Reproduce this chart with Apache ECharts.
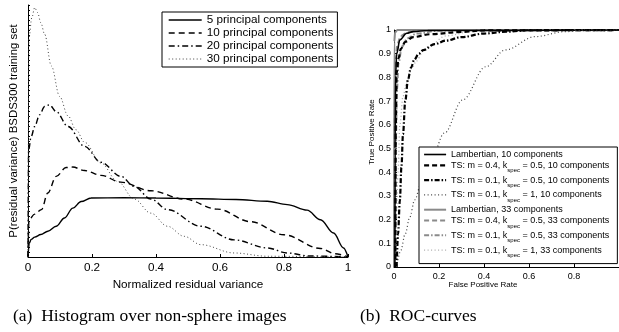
<!DOCTYPE html>
<html>
<head>
<meta charset="utf-8">
<script src="https://cdn.jsdelivr.net/npm/echarts@6/dist/echarts.min.js"></script>
<style>
  html, body { margin: 0; padding: 0; background: #fff; }
  #chart { width: 619px; height: 332px; }
</style>
</head>
<body>
<div id="chart"></div>
<script>
/* ------------------------------- Data (a) -------------------------------- */
const histTicks = [0, 0.2, 0.4, 0.6, 0.8, 1];
const histNames = ['5 principal components', '10 principal components', '20 principal components', '30 principal components'];
const hist5 = [[0, 0], [0.004, 5.5], [0.01, 7], [0.021, 7.9], [0.04, 8.9], [0.062, 10.2], [0.088, 12.2], [0.114, 15.5], [0.14, 19.4], [0.166, 22], [0.197, 23.4], [0.3, 23.5], [0.4, 23.4], [0.54, 23.1], [0.65, 22.8], [0.748, 22.1], [0.81, 20.8], [0.872, 18.6], [0.914, 14.8], [0.955, 9.5], [0.986, 3.6], [1, 0]];
const hist10 = [[0, 0], [0.003, 14.8], [0.021, 17], [0.042, 18.8], [0.062, 25.4], [0.088, 32], [0.119, 35.5], [0.14, 35.7], [0.177, 34.3], [0.228, 32.4], [0.29, 29.7], [0.384, 26.3], [0.488, 23], [0.592, 19], [0.696, 14], [0.8, 8.8], [0.914, 3.4], [0.96, 1.3], [1, 0]];
const hist20 = [[0, 0], [0.002, 42.5], [0.01, 47.8], [0.021, 51.8], [0.036, 56.4], [0.052, 59.7], [0.067, 60.4], [0.088, 57.7], [0.125, 51.8], [0.177, 43.9], [0.228, 37.6], [0.29, 32], [0.332, 28], [0.384, 23], [0.436, 18.8], [0.54, 12.2], [0.644, 6.8], [0.748, 3.6], [0.81, 1.6], [0.88, 0.4], [1, 0]];
const hist30 = [[0, 0], [0.003, 86.8], [0.012, 95], [0.021, 99], [0.03, 97], [0.04, 93], [0.052, 88.4], [0.073, 75.8], [0.099, 63.7], [0.125, 56], [0.15, 50.5], [0.177, 45.5], [0.228, 37.3], [0.28, 30], [0.332, 23], [0.384, 17.4], [0.436, 12.2], [0.488, 8.2], [0.54, 4.9], [0.644, 1.6], [0.748, 0.3], [1, 0]];

/* ------------------------------- Data (b) -------------------------------- */
const rocTicksX = [0, 0.2, 0.4, 0.6, 0.8];
const rocTicksY = [0, 0.1, 0.2, 0.3, 0.4, 0.5, 0.6, 0.7, 0.8, 0.9, 1];
const rocNames = [
  'Lambertian, 10 components',
  'TS: m = 0.4, k_spec = 0.5, 10 components',
  'TS: m = 0.1, k_spec = 0.5, 10 components',
  'TS: m = 0.1, k_spec = 1, 10 components',
  'Lambertian, 33 components',
  'TS: m = 0.4, k_spec = 0.5, 33 components',
  'TS: m = 0.1, k_spec = 0.5, 33 components',
  'TS: m = 0.1, k_spec = 1, 33 components'
];
const lamb10 = [[0.004, 0], [0.005, 0.5], [0.007, 0.81], [0.012, 0.9], [0.026, 0.958], [0.056, 0.986], [0.085, 0.993], [0.15, 0.998], [1, 1]];
const ts04k05c10 = [[0.006, 0], [0.008, 0.6], [0.012, 0.82], [0.02, 0.88], [0.03, 0.92], [0.05, 0.95], [0.085, 0.97], [0.16, 0.982], [0.3, 0.992], [0.4, 0.998], [1, 1]];
const ts01k05c10 = [[0.012, 0], [0.018, 0.14], [0.026, 0.28], [0.033, 0.42], [0.04, 0.56], [0.05, 0.7], [0.062, 0.79], [0.075, 0.84], [0.09, 0.875], [0.11, 0.9], [0.13, 0.915], [0.18, 0.94], [0.23, 0.955], [0.3, 0.97], [0.4, 0.985], [0.5, 0.993], [0.6, 0.999], [1, 1]];
const ts01k1c10 = [[0.012, 0], [0.03, 0.07], [0.05, 0.14], [0.07, 0.21], [0.092, 0.283], [0.12, 0.35], [0.158, 0.43], [0.224, 0.565], [0.305, 0.705], [0.408, 0.845], [0.495, 0.916], [0.627, 0.972], [0.76, 0.993], [0.85, 1], [1, 1]];
const lamb33 = [[0, 0], [0.001, 0.95], [0.005, 0.99], [0.015, 1], [1, 1]];
const ts04k05c33 = [[0.002, 0], [0.004, 0.7], [0.008, 0.88], [0.015, 0.94], [0.03, 0.975], [0.06, 0.99], [0.12, 1], [1, 1]];
const ts01k05c33 = [[0.004, 0], [0.008, 0.5], [0.013, 0.75], [0.02, 0.86], [0.035, 0.93], [0.06, 0.965], [0.1, 0.985], [0.2, 0.997], [0.3, 1], [1, 1]];
const ts01k1c33 = [[0.005, 0], [0.01, 0.2], [0.018, 0.4], [0.026, 0.6], [0.04, 0.72], [0.056, 0.78], [0.08, 0.84], [0.1, 0.87], [0.13, 0.91], [0.158, 0.935], [0.23, 0.975], [0.35, 0.995], [0.5, 1], [1, 1]];

/* --------------------------------- Styles -------------------------------- */
const SANS = '"Liberation Sans", Arial, sans-serif';
const SERIF = '"Liberation Serif", "Times New Roman", serif';
const DASH = [6, 4];
const DASHDOT = [6, 3, 1.5, 3];
const DOT = [1, 2.5];

const line = (name, data, xi, color, width, type) => ({
  name,
  type: 'line',
  data,
  xAxisIndex: xi,
  yAxisIndex: xi,
  symbol: 'none',
  smooth: 0.35,
  smoothMonotone: 'x',
  silent: true,
  lineStyle: { color, width, type },
  itemStyle: { color },
  z: 2
});

const axisCommon = fontSize => ({
  axisLine: { lineStyle: { color: '#000', width: 1 } },
  axisTick: { inside: true, length: 3, lineStyle: { color: '#000' } },
  axisLabel: { color: '#000', fontFamily: SANS, fontSize },
  splitLine: { show: false }
});

// TS names carry a "spec" subscript on k
const richName = name =>
  name.startsWith('TS')
    ? '{t|' + name.replace('k_spec', 'k}{s|spec}{t|') + '}'
    : '{l|' + name + '}';

/* --------------------------------- Chart --------------------------------- */
const chart = echarts.init(document.getElementById('chart'));

chart.setOption({
  animation: false,
  backgroundColor: '#fff',
  grid: [
    { left: 27, right: 271, top: 5, bottom: 75 },
    { left: 394, right: -2.5, top: 30, bottom: 65 }
  ],
  xAxis: [
    {
      gridIndex: 0, type: 'value', min: histTicks[0], max: histTicks[histTicks.length - 1], interval: 0.2,
      ...axisCommon(11.7),
      axisLabel: { color: '#000', fontFamily: SANS, fontSize: 11.7, margin: 5 },
      name: 'Normalized residual variance', nameLocation: 'middle', nameGap: 18,
      nameTextStyle: { color: '#000', fontFamily: SANS, fontSize: 11.7 }
    },
    {
      gridIndex: 1, type: 'value', min: rocTicksX[0], max: 1, interval: 0.2,
      ...axisCommon(9),
      axisLabel: { color: '#000', fontFamily: SANS, fontSize: 9, margin: 5, showMaxLabel: false }
    }
  ],
  yAxis: [
    {
      gridIndex: 0, type: 'value', min: 0, max: 100, interval: 2,
      ...axisCommon(11.7),
      axisTick: { inside: true, length: 2, lineStyle: { color: '#000' } },
      axisLabel: { show: false },
      name: 'P(residual variance) BSDS300 training set', nameLocation: 'middle', nameGap: 9,
      nameTextStyle: { color: '#000', fontFamily: SANS, fontSize: 11.4 }
    },
    {
      gridIndex: 1, type: 'value', min: rocTicksY[0], max: rocTicksY[rocTicksY.length - 1], interval: 0.1,
      ...axisCommon(9),
      axisLabel: { color: '#000', fontFamily: SANS, fontSize: 9, margin: 3 }
    }
  ],
  legend: [
    {
      data: histNames,
      orient: 'vertical',
      left: 162, top: 12,
      padding: [2, 4, 2, 6],
      itemGap: 1,
      itemWidth: 33, itemHeight: 12,
      backgroundColor: '#fff',
      borderColor: '#000', borderWidth: 1, borderRadius: 0,
      selectedMode: false,
      itemStyle: { opacity: 0 },
      lineStyle: { width: 'inherit' },
      textStyle: { color: '#000', fontFamily: SANS, fontSize: 11.7 }
    },
    {
      data: rocNames,
      orient: 'vertical',
      left: 419, top: 147,
      padding: [3, 8, 5, 4],
      itemGap: 1.8,
      itemWidth: 22, itemHeight: 8,
      backgroundColor: '#fff',
      borderColor: '#000', borderWidth: 1, borderRadius: 0,
      selectedMode: false,
      itemStyle: { opacity: 0 },
      lineStyle: { width: 'inherit' },
      formatter: richName,
      textStyle: {
        color: '#000', fontFamily: SANS, fontSize: 9,
        rich: {
          l: { fontFamily: SANS, fontSize: 9, lineHeight: 10, color: '#000' },
          t: { fontFamily: SANS, fontSize: 9, lineHeight: 9, verticalAlign: 'top', color: '#000' },
          s: { fontFamily: SANS, fontSize: 6, lineHeight: 7, padding: [7, 0, 0, 0], verticalAlign: 'top', color: '#000' }
        }
      }
    }
  ],
  series: [
    line(histNames[0], hist5, 0, '#000', 1.4, 'solid'),
    line(histNames[1], hist10, 0, '#000', 1.4, DASH),
    line(histNames[2], hist20, 0, '#000', 1.4, DASHDOT),
    line(histNames[3], hist30, 0, '#444', 1, DOT),
    line(rocNames[4], lamb33, 1, '#8a8a8a', 2, 'solid'),
    line(rocNames[5], ts04k05c33, 1, '#8a8a8a', 2, [5, 3]),
    line(rocNames[6], ts01k05c33, 1, '#8a8a8a', 2, [5, 2, 1.5, 2]),
    line(rocNames[7], ts01k1c33, 1, '#aaaaaa', 1.3, DOT),
    line(rocNames[0], lamb10, 1, '#000', 1.6, 'solid'),
    line(rocNames[1], ts04k05c10, 1, '#000', 2.2, [5, 3]),
    line(rocNames[2], ts01k05c10, 1, '#000', 2.2, [5, 2, 1.5, 2]),
    line(rocNames[3], ts01k1c10, 1, '#444', 1.2, DOT)
  ],
  graphic: [
    {
      type: 'text', x: 372, y: 132, rotation: Math.PI / 2, silent: true,
      style: { text: 'True Positive Rate', fill: '#000', font: '8px ' + SANS, align: 'center', verticalAlign: 'middle' }
    },
    {
      type: 'text', x: 483, y: 285, silent: true,
      style: { text: 'False Positive Rate', fill: '#000', font: '8px ' + SANS, align: 'center', verticalAlign: 'middle' }
    },
    {
      type: 'text', x: 13, y: 316, silent: true,
      style: { text: '(a)\u2002Histogram over non-sphere images', fill: '#000', font: '17.5px ' + SERIF, align: 'left', verticalAlign: 'middle' }
    },
    {
      type: 'text', x: 360, y: 316, silent: true,
      style: { text: '(b)\u2002ROC-curves', fill: '#000', font: '17.5px ' + SERIF, align: 'left', verticalAlign: 'middle' }
    }
  ]
});
</script>
</body>
</html>
